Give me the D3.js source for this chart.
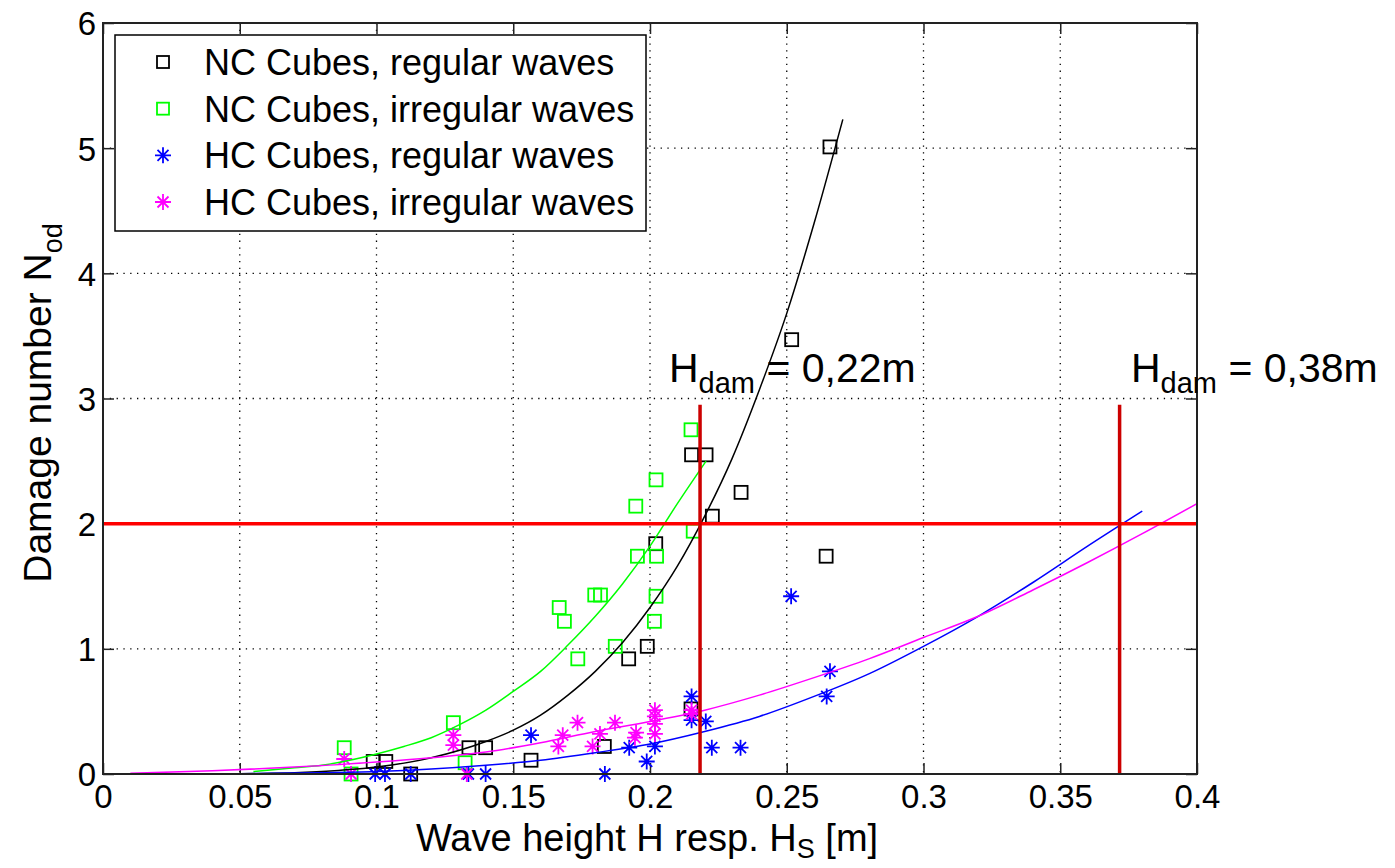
<!DOCTYPE html>
<html>
<head>
<meta charset="utf-8">
<script src="https://cdn.jsdelivr.net/npm/d3@7"></script>
<style>
  body { margin: 0; background: #fff; }
  svg { display: block; font-family: "Liberation Sans", Arial, sans-serif; }
</style>
</head>
<body>
<svg id="chart"></svg>
<script>
// Measured points (x = wave height [m], y = damage number Nod)
const ncRegular = [
  [0.0988, 0.10], [0.1034, 0.10], [0.1125, 0.00], [0.1338, 0.21], [0.1399, 0.21],
  [0.1565, 0.11], [0.1833, 0.22], [0.1922, 0.92], [0.1990, 1.02], [0.2021, 1.84],
  [0.2150, 0.52], [0.2152, 2.55], [0.2205, 2.55], [0.2228, 2.06], [0.2333, 2.25],
  [0.2518, 3.47], [0.2644, 1.74], [0.2658, 5.01]
];
const ncIrregular = [
  [0.0882, 0.21], [0.0907, 0.00], [0.1281, 0.41], [0.1324, 0.09], [0.1668, 1.33],
  [0.1687, 1.22], [0.1736, 0.92], [0.1798, 1.43], [0.1819, 1.43], [0.1873, 1.02],
  [0.1948, 2.14], [0.1954, 1.74], [0.2016, 1.22], [0.2022, 1.42], [0.2022, 2.35],
  [0.2024, 1.74], [0.2150, 2.75], [0.2158, 1.94]
];
const hcRegular = [
  [0.0995, 0.00], [0.1031, 0.00], [0.1125, 0.00], [0.1336, 0.00], [0.1399, 0.00],
  [0.1565, 0.31], [0.1835, 0.00], [0.1924, 0.21], [0.1988, 0.10], [0.2018, 0.22],
  [0.2152, 0.43], [0.2152, 0.62], [0.2204, 0.42], [0.2226, 0.21], [0.2331, 0.21],
  [0.2516, 1.42], [0.2646, 0.62], [0.2658, 0.82]
];
const hcIrregular = [
  [0.0882, 0.12], [0.0907, 0.00], [0.1281, 0.23], [0.1281, 0.31], [0.1330, 0.00],
  [0.1665, 0.22], [0.1681, 0.31], [0.1735, 0.41], [0.1790, 0.22], [0.1817, 0.32],
  [0.1872, 0.41], [0.1945, 0.29], [0.1949, 0.33], [0.2018, 0.32], [0.2018, 0.40],
  [0.2018, 0.46], [0.2018, 0.51], [0.2152, 0.48], [0.2152, 0.51]
];

// Fit curves
const ncRegFitX = [0.01, 0.05, 0.08, 0.10, 0.12, 0.14, 0.15, 0.16, 0.17, 0.18, 0.19, 0.20, 0.21, 0.22, 0.23, 0.24, 0.25, 0.26, 0.2705];
const ncRegFitY = [0.00, 0.002, 0.02, 0.055, 0.13, 0.26, 0.35, 0.47, 0.63, 0.82, 1.05, 1.33, 1.66, 2.06, 2.52, 3.07, 3.68, 4.40, 5.23];
const ncIrrFitX = [0.055, 0.07, 0.08, 0.10, 0.11, 0.12, 0.13, 0.14, 0.15, 0.16, 0.17, 0.18, 0.19, 0.20, 0.21, 0.2205];
const ncIrrFitY = [0.02, 0.05, 0.07, 0.16, 0.22, 0.29, 0.39, 0.51, 0.66, 0.82, 1.03, 1.26, 1.52, 1.82, 2.16, 2.50];
const hcRegFitX = [0.01, 0.05, 0.08, 0.10, 0.12, 0.14, 0.16, 0.18, 0.20, 0.22, 0.24, 0.26, 0.28, 0.30, 0.32, 0.34, 0.36, 0.38];
const hcRegFitY = [0.00, 0.003, 0.01, 0.02, 0.04, 0.07, 0.11, 0.17, 0.24, 0.34, 0.46, 0.62, 0.80, 1.02, 1.26, 1.53, 1.82, 2.10];
const hcIrrFitX = [0.01, 0.04, 0.07, 0.10, 0.12, 0.14, 0.16, 0.18, 0.20, 0.22, 0.24, 0.26, 0.28, 0.30, 0.32, 0.34, 0.36, 0.38, 0.40];
const hcIrrFitY = [0.005, 0.025, 0.055, 0.095, 0.13, 0.175, 0.25, 0.34, 0.42, 0.51, 0.63, 0.77, 0.92, 1.09, 1.26, 1.47, 1.69, 1.92, 2.16];

// Damage limit and design wave heights
const damageLimit = 2;
const hDamX = [0.2183, 0.3717];
const hDamTop = 2.95;
const hDamLabels = ["0,22m", "0,38m"];

const xTicks = [0, 0.05, 0.1, 0.15, 0.2, 0.25, 0.3, 0.35, 0.4];
const yTicks = [0, 1, 2, 3, 4, 5, 6];
const legendLabels = ["NC Cubes, regular waves", "NC Cubes, irregular waves", "HC Cubes, regular waves", "HC Cubes, irregular waves"];

const w = 1395, h = 868;
const pLeft = 103, pRight = 1197, pTop = 23, pBottom = 774;

const svg = d3.select("#chart").attr("width", w).attr("height", h);
svg.append("rect").attr("width", w).attr("height", h).attr("fill", "#fff");

const x = d3.scaleLinear().domain([0, 0.4]).range([pLeft, pRight]);
const y = d3.scaleLinear().domain([0, 6]).range([pBottom, pTop]);

svg.append("defs").append("clipPath").attr("id", "plotClip")
  .append("rect").attr("x", pLeft).attr("y", pTop).attr("width", pRight - pLeft).attr("height", pBottom - pTop);

// Grid (dotted)
const grid = svg.append("g").attr("stroke", "#000").attr("stroke-width", 1.3).attr("stroke-dasharray", "1.3,5.5");
grid.selectAll(".gx").data(xTicks.slice(1, -1)).enter().append("line")
  .attr("x1", d => x(d)).attr("x2", d => x(d)).attr("y1", pTop).attr("y2", pBottom);
grid.selectAll(".gy").data(yTicks.slice(1, -1)).enter().append("line")
  .attr("x1", pLeft).attr("x2", pRight).attr("y1", d => y(d)).attr("y2", d => y(d));

// Axes with inward ticks
const tickLen = 11;
const plain = d => String(d);
const xAxis = svg.append("g").attr("transform", `translate(0,${pBottom})`)
  .call(d3.axisBottom(x).tickValues(xTicks).tickSize(-tickLen).tickPadding(11).tickFormat(plain));
const xAxisTop = svg.append("g").attr("transform", `translate(0,${pTop})`)
  .call(d3.axisTop(x).tickValues(xTicks).tickSize(-tickLen).tickFormat(""));
const yAxis = svg.append("g").attr("transform", `translate(${pLeft},0)`)
  .call(d3.axisLeft(y).tickValues(yTicks).tickSize(-tickLen).tickPadding(7).tickFormat(plain));
const yAxisRight = svg.append("g").attr("transform", `translate(${pRight},0)`)
  .call(d3.axisRight(y).tickValues(yTicks).tickSize(-tickLen).tickFormat(""));
[xAxis, xAxisTop, yAxis, yAxisRight].forEach(g => {
  g.select(".domain").remove();
  g.selectAll(".tick line").attr("stroke", "#222").attr("stroke-width", 1.5);
  g.selectAll("text").attr("fill", "#000").style("font-size", "33px").style("font-family", "'Liberation Sans', Arial, sans-serif");
});
xAxis.selectAll("text").attr("dy", "0.71em");
yAxis.selectAll("text").attr("dy", "0.36em");

// Markers
const plot = svg.append("g");
function squares(data, color) {
  plot.append("g").selectAll("rect").data(data).enter().append("rect")
    .attr("x", d => x(d[0]) - 6.5).attr("y", d => y(d[1]) - 6.5)
    .attr("width", 13).attr("height", 13)
    .attr("fill", "none").attr("stroke", color).attr("stroke-width", 1.8);
}
const starPath = "M-8,0H8M0,-8V8M-5.5,-5.5L5.5,5.5M-5.5,5.5L5.5,-5.5";
function stars(data, color) {
  plot.append("g").selectAll("path").data(data).enter().append("path")
    .attr("transform", d => `translate(${x(d[0])},${y(d[1])})`)
    .attr("d", starPath).attr("fill", "none").attr("stroke", color).attr("stroke-width", 1.8);
}
squares(ncRegular, "#000");
squares(ncIrregular, "#00ff00");
stars(hcRegular, "#0000ff");
stars(hcIrregular, "#ff00ff");

// Fit curves
const line = d3.line().x(d => x(d[0])).y(d => y(d[1])).curve(d3.curveMonotoneX);
const fits = [
  [ncRegFitX, ncRegFitY, "#000"],
  [ncIrrFitX, ncIrrFitY, "#00ff00"],
  [hcRegFitX, hcRegFitY, "#0000ff"],
  [hcIrrFitX, hcIrrFitY, "#ff00ff"]
];
const curves = svg.append("g").attr("clip-path", "url(#plotClip)");
fits.forEach(f => {
  curves.append("path").datum(d3.zip(f[0], f[1]))
    .attr("d", line).attr("fill", "none").attr("stroke", f[2]).attr("stroke-width", 1.5);
});

// Damage limit lines
svg.append("line").attr("x1", pLeft).attr("x2", pRight).attr("y1", y(damageLimit)).attr("y2", y(damageLimit))
  .attr("stroke", "#ff0000").attr("stroke-width", 3.5);
svg.selectAll(".hdam").data(hDamX).enter().append("line")
  .attr("x1", d => x(d)).attr("x2", d => x(d)).attr("y1", y(hDamTop)).attr("y2", y(0))
  .attr("stroke", "#cc0000").attr("stroke-width", 3.5);

// Box
svg.append("rect").attr("x", pLeft).attr("y", pTop).attr("width", pRight - pLeft).attr("height", pBottom - pTop)
  .attr("fill", "none").attr("stroke", "#222").attr("stroke-width", 2);

// Annotations
const annX = [669, 1131];
hDamLabels.forEach((lbl, i) => {
  const t = svg.append("text").attr("x", annX[i]).attr("y", 382).style("font-size", "41px").attr("fill", "#000");
  t.append("tspan").text("H");
  t.append("tspan").attr("dy", 11).style("font-size", "29px").text("dam");
  t.append("tspan").attr("dy", -11).text(" = " + lbl);
});

// Axis labels
const xl = svg.append("text").attr("x", 647).attr("y", 851).attr("text-anchor", "middle").style("font-size", "38px");
xl.append("tspan").text("Wave height H resp. H");
xl.append("tspan").attr("dy", 7).style("font-size", "27px").text("S");
xl.append("tspan").attr("dy", -7).text(" [m]");

const yl = svg.append("text").attr("transform", "translate(51,403) rotate(-90)").attr("text-anchor", "middle").style("font-size", "39px");
yl.append("tspan").text("Damage number N");
yl.append("tspan").attr("dy", 11).style("font-size", "27px").text("od");

// Legend
const lg = svg.append("g");
lg.append("rect").attr("x", 115).attr("y", 35).attr("width", 531).attr("height", 196)
  .attr("fill", "#fff").attr("stroke", "#000").attr("stroke-width", 1.5);
const legendColors = ["#000", "#00ff00", "#0000ff", "#ff00ff"];
const legendRowY = d3.scalePoint().domain(d3.range(4)).range([62, 202]);
legendLabels.forEach((lbl, i) => {
  const cy = legendRowY(i);
  if (i < 2) {
    lg.append("rect").attr("x", 157).attr("y", cy - 6).attr("width", 12).attr("height", 12)
      .attr("fill", "none").attr("stroke", legendColors[i]).attr("stroke-width", 1.8);
  } else {
    lg.append("path").attr("transform", `translate(163,${cy})`).attr("d", starPath)
      .attr("fill", "none").attr("stroke", legendColors[i]).attr("stroke-width", 1.8);
  }
  lg.append("text").attr("x", 204).attr("y", cy).attr("dy", "0.36em").style("font-size", "36px").text(lbl);
});
</script>
</body>
</html>
